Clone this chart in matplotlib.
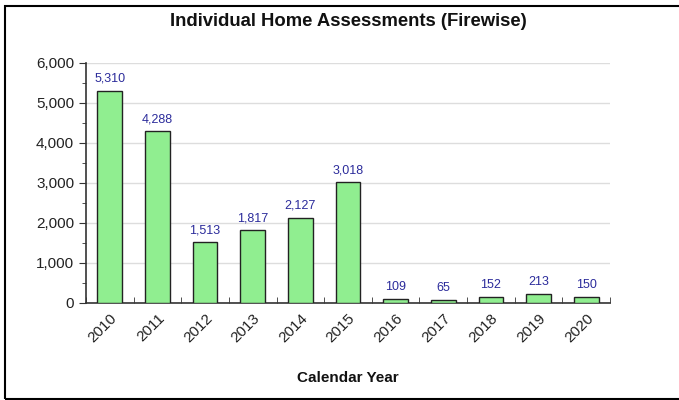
import matplotlib.pyplot as plt
from matplotlib.patches import Rectangle
from matplotlib.ticker import MultipleLocator, FuncFormatter

# data
years = ['2010', '2011', '2012', '2013', '2014', '2015',
         '2016', '2017', '2018', '2019', '2020']
assessments = [5310, 4288, 1513, 1817, 2127, 3018, 109, 65, 152, 213, 150]

plt.rcParams['font.family'] = ['Liberation Sans', 'DejaVu Sans']

fig = plt.figure(figsize=(6.79, 4.0), dpi=100)
ax = fig.add_axes([86/679, 1 - 303/400, (610 - 86)/679, (303 - 63)/400])

# frame around the whole chart (right side is cut off in the original)
fig.patches.append(Rectangle((5/679, 1/400), 1.0, 393/400, transform=fig.transFigure,
                             fill=False, edgecolor='black', linewidth=1.5))

x = list(range(len(years)))
ax.bar(x, assessments, width=0.52, color='#90EE90', edgecolor='#222222', linewidth=1.0, zorder=3)

for xi, v in zip(x, assessments):
    ax.text(xi, v + 150, f'{v:,}', ha='center', va='bottom', fontsize=9, color='#2B2B9B')

ax.set_xlim(-0.5, len(years) - 0.5)
ax.set_ylim(0, 6000)

ax.yaxis.set_major_locator(MultipleLocator(1000))
ax.yaxis.set_minor_locator(MultipleLocator(500))
ax.yaxis.set_major_formatter(FuncFormatter(lambda v, p: f'{int(v):,}'))
ax.grid(axis='y', color='#DDDDDD', linewidth=1.0, zorder=0)
ax.set_axisbelow(True)

ax.set_xticks(x)
ax.set_xticklabels(years, rotation=45, ha='right', rotation_mode='anchor', fontsize=11, color='#222222')
ax.tick_params(axis='x', length=0, pad=6)
# category boundary ticks pointing up
ax.set_xticks([i - 0.5 for i in range(len(years) + 1)], minor=True)
ax.tick_params(axis='x', which='minor', direction='in', length=4, color='#333333')

ax.tick_params(axis='y', which='major', direction='out', length=5, labelsize=11, labelcolor='#222222', color='#333333')
ax.tick_params(axis='y', which='minor', direction='out', length=3, color='#333333')

for s in ['top', 'right']:
    ax.spines[s].set_visible(False)
for s in ['left', 'bottom']:
    ax.spines[s].set_color('#333333')
    ax.spines[s].set_linewidth(1.2)

fig.text(348/679, 1 - 22/400, 'Individual Home Assessments (Firewise)', ha='center', va='center',
         fontsize=13.3, fontweight='bold', color='#111111')
fig.text(348/679, 1 - 378/400, 'Calendar Year', ha='center', va='center',
         fontsize=11, fontweight='bold', color='#111111')

fig.savefig('out.png', dpi=100)
